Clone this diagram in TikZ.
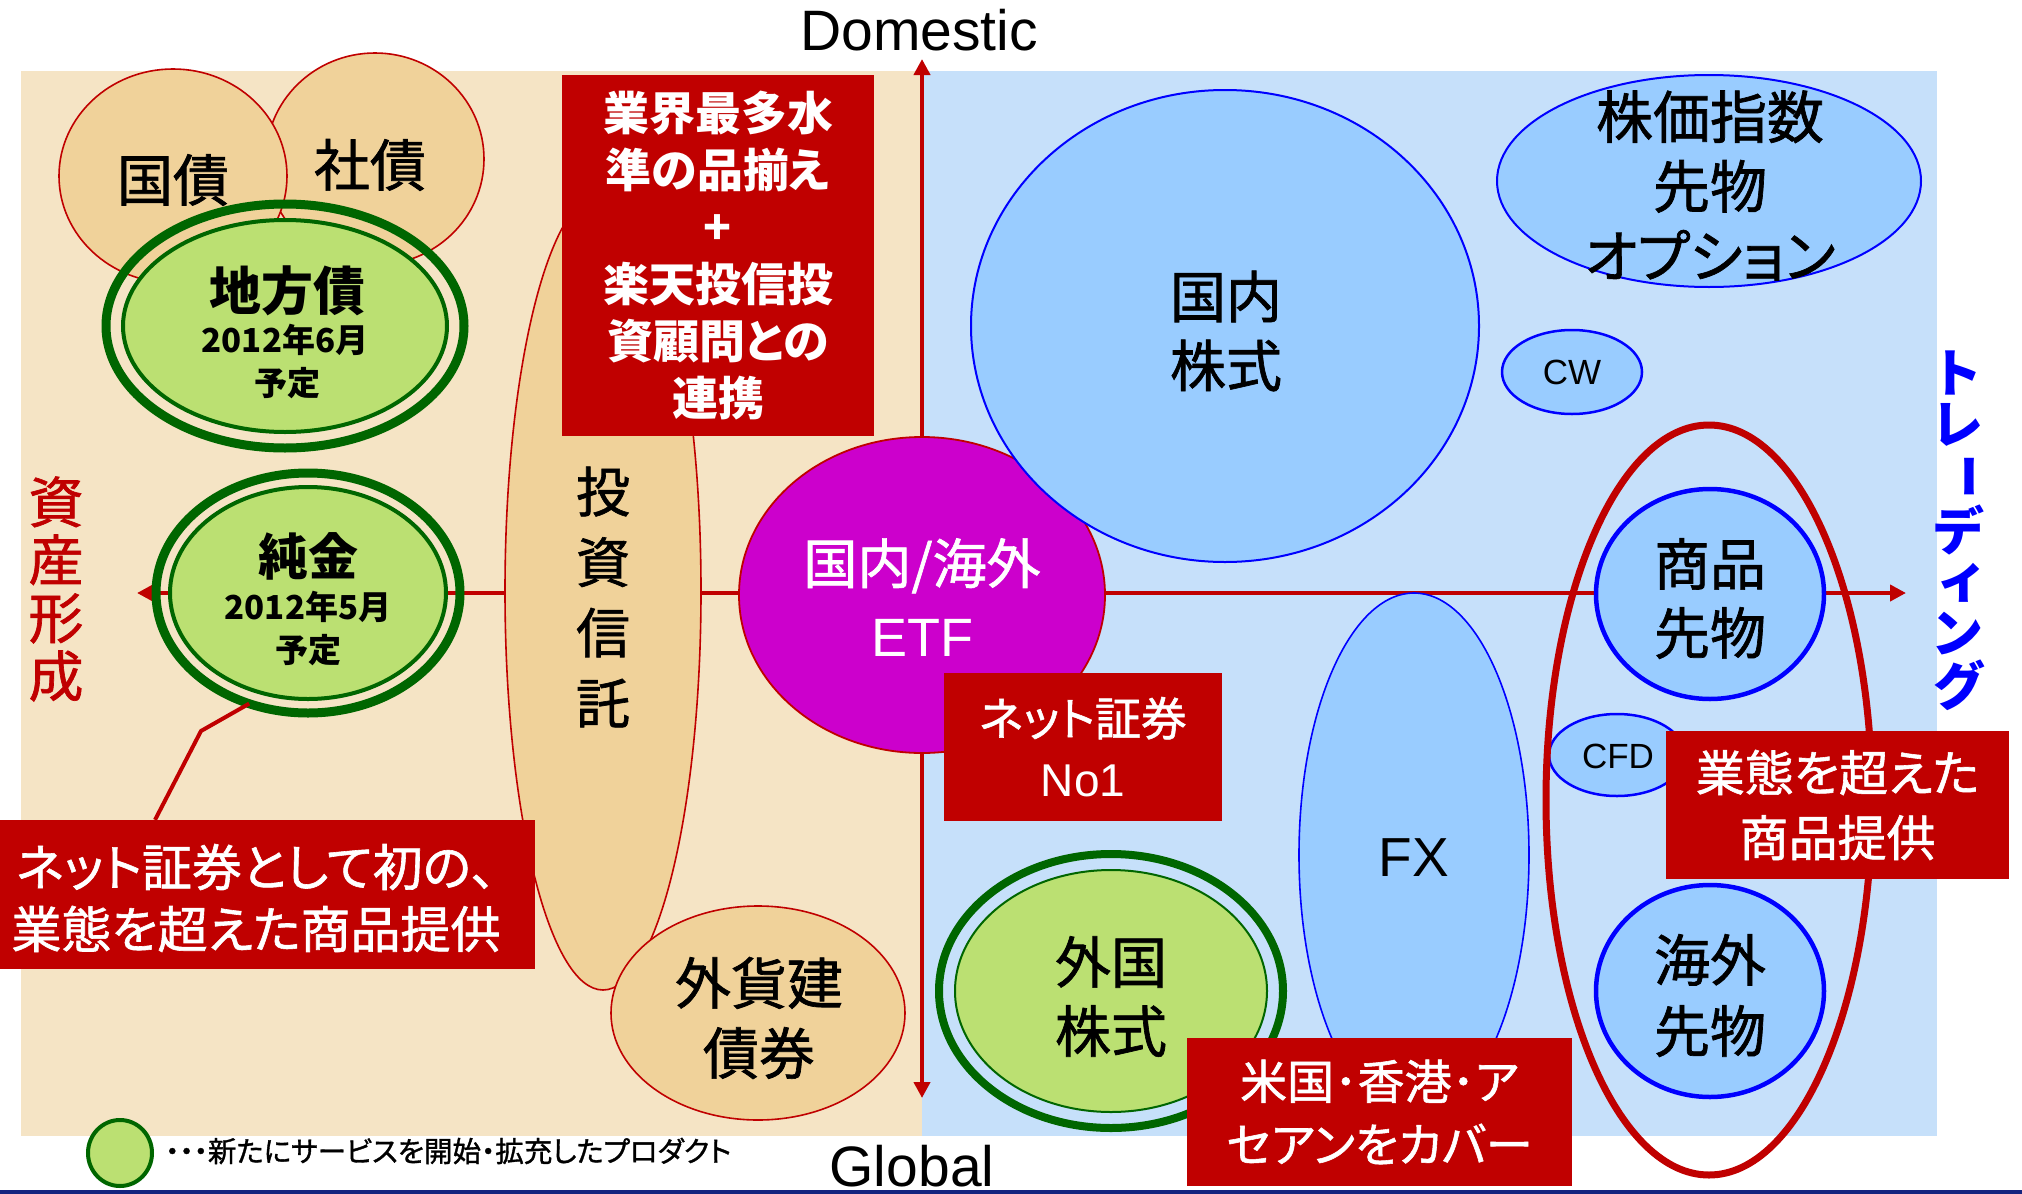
\documentclass[tikz,border=0pt]{standalone}
\usepackage{fontspec}
\usepackage{graphicx}
\setmainfont{Liberation Sans}
\newfontfamily\jp[RawFeature=+palt]{Noto Sans CJK JP}
\newfontfamily\jpm[RawFeature=+palt,FakeBold=1.2]{Noto Sans CJK JP}
\usetikzlibrary{shapes.geometric,arrows.meta,calc}
\definecolor{cRed}{HTML}{C00000}
\definecolor{cBeige}{HTML}{F5E4C5}
\definecolor{cTan}{HTML}{F0D29A}
\definecolor{cLblue}{HTML}{C6E0FA}
\definecolor{cEblue}{HTML}{99CCFF}
\definecolor{cBlue}{HTML}{0000FF}
\definecolor{cLgreen}{HTML}{BBE072}
\definecolor{cDgreen}{HTML}{006600}
\definecolor{cMag}{HTML}{CC00CC}
\definecolor{cNavy}{HTML}{14247F}
\begin{document}
\begin{tikzpicture}[x=1pt,y=-1pt,
  oval/.style={ellipse, inner sep=0pt, outer sep=0pt},
  bond/.style={oval, fill=cTan, draw=cRed, line width=1.6pt},
  bluefill/.style={oval, fill=cEblue, draw=cBlue, line width=#1},
  ring/.style={oval, draw=cDgreen, line width=#1},
  core/.style={oval, fill=cLgreen, draw=cDgreen, line width=#1},
  redbox/.style={rectangle, fill=cRed, inner sep=0pt, text=white, align=center},
  jt/.style 2 args={font=\jpm\fontsize{#1}{#2}\selectfont, align=center, inner sep=0pt},
  jb/.style 2 args={font=\jp\bfseries\fontsize{#1}{#2}\selectfont, align=center, inner sep=0pt},
  lt/.style={font=\fontsize{#1}{#1}\selectfont, inner sep=0pt},
  axis/.style={draw=cRed, line width=4pt, {Triangle[length=16pt,width=16pt]}-{Triangle[length=16pt,width=16pt]}},
  callline/.style={draw=cRed, line width=4pt}
]
\useasboundingbox (0,0) rectangle (2022,1194);
% backgrounds
\fill[cBeige] (21,71) rectangle (922,1136);
\fill[cLblue] (922,71) rectangle (1937,1136);
\fill[cNavy] (0,1190) rectangle (2022,1194);

% axes
\coordinate (ytop) at (922,59);
\coordinate (ybot) at (922,1098);
\coordinate (xleft) at (137,593);
\coordinate (xright) at (1906,593);
\draw[axis] (xleft) -- (xright);
\draw[axis] (ybot) -- (ytop);

% left side ovals
\node[bond, minimum width=218pt, minimum height=212pt] (shasai) at (375,159) {};
\node[bond, minimum width=228pt, minimum height=214pt] (kokusai) at (173,176) {};
\node[ring=9pt, minimum width=358pt, minimum height=244pt] (chihouR) at (285,326) {};
\node[core=4pt, minimum width=324pt, minimum height=212pt] (chihouC) at (285,326) {};
\node[ring=9pt, minimum width=304pt, minimum height=240pt] (junkinR) at (308,593) {};
\node[core=4pt, minimum width=276pt, minimum height=212pt] (junkinC) at (308,593) {};
\node[bond, minimum width=196pt, minimum height=798pt] (toushin) at (603,591) {};
\node[bond, minimum width=294pt, minimum height=214pt] (gaika) at (758,1013) {};

% centre / right ovals
\node[oval, fill=cMag, draw=cRed, line width=1.8pt, minimum width=366pt, minimum height=316pt] (etf) at (922,595) {};
\node[bluefill=2pt, minimum width=508pt, minimum height=472pt] (kokunai) at (1225,326) {};
\node[bluefill=2pt, minimum width=424pt, minimum height=212pt] (kabuka) at (1709,181) {};
\node[bluefill=2.5pt, minimum width=140pt, minimum height=84pt] (cw) at (1572,372) {};
\node[bluefill=4.5pt, minimum width=228pt, minimum height=210pt] (shohin) at (1710,594) {};
\node[bluefill=2.5pt, minimum width=136pt, minimum height=82pt] (cfd) at (1617,755) {};
\node[bluefill=4.5pt, minimum width=228pt, minimum height=212pt] (kaigai) at (1710,991) {};
\node[bluefill=1.6pt, minimum width=230pt, minimum height=524pt] (fx) at (1414,855) {};
\node[ring=8pt, minimum width=344pt, minimum height=274pt] (gaikokuR) at (1111,991) {};
\node[core=2pt, minimum width=312pt, minimum height=242pt] (gaikokuC) at (1111,991) {};
\node[oval, draw=cRed, line width=7pt, minimum width=326pt, minimum height=750pt] (trade) at (1709,800) {};

% red boxes
\node[redbox, minimum width=312pt, minimum height=361pt, font=\jp\bfseries\fontsize{46}{57}\selectfont] (hinzoroe) at (718,255.5)
  {業界最多水\\準の品揃え\\+\\楽天投信投\\資顧問との\\連携};
\node[redbox, minimum width=278pt, minimum height=148pt, font=\jpm\fontsize{46}{61}\selectfont] (no1) at (1083,747)
  {ネット証券\\{\rmfamily No1}};
\node[redbox, minimum width=343pt, minimum height=148pt, font=\jpm\fontsize{49}{65}\selectfont] (gyotai) at (1837.5,805)
  {業態を超えた\\商品提供};
\node[redbox, minimum width=385pt, minimum height=148pt, font=\jpm\fontsize{47}{63}\selectfont] (beikoku) at (1379.5,1112)
  {米国･香港･ア\\セアンをカバー};
\node[redbox, minimum width=535pt, minimum height=149pt] (callbox) at (267.5,894.5) {};
\node[jt={50}{62}, text=white] (calltext) at (256,898) {ネット証券として初の、\\業態を超えた商品提供};

% callout connector
\coordinate (callbend) at (201,731);
\draw[callline] (junkinR.-118) -- (callbend) -- ($(callbox.north west)!0.29!(callbox.north east)$);

% texts in ovals
\node[jt={56}{56}] (kokusaiT) at (173,180) {国債};
\node[jt={56}{56}] (shasaiT) at (370,165) {社債};
\node[jb={52}{52}] (chihouT1) at (287,291) {地方債};
\node[jb={33}{33}] (chihouT2) at (285,340) {2012年6月};
\node[jb={33}{33}] (chihouT3) at (287,383) {予定};
\node[jb={50}{50}] (junkinT1) at (308,556) {純金};
\node[jb={33}{33}] (junkinT2) at (308,607) {2012年5月};
\node[jb={33}{33}] (junkinT3) at (308,650) {予定};
\node[jt={54}{70.5}] (toushinT) at (603,597) {投\\資\\信\\託};
\node[jt={56}{70}] (gaikaT) at (759,1018) {外貨建\\債券};
\node[jt={54}{73}, text=white] (etfT) at (922,597.5) {国内/海外\\{\rmfamily ETF}};
\node[jt={56}{69}] (kokunaiT) at (1226,331) {国内\\株式};
\node[jt={57}{69.5}] (kabukaT) at (1710,185.5) {株価指数\\先物\\オプション};
\node[lt=35] (cwT) at (1572,372) {CW};
\node[jt={56}{69}] (shohinT) at (1710,598.5) {商品\\先物};
\node[lt=35] (cfdT) at (1618,756) {CFD};
\node[jt={56}{71}] (kaigaiT) at (1710,995.5) {海外\\先物};
\node[lt=55] (fxT) at (1414,858) {FX};
\node[jt={56}{69}] (gaikokuT) at (1111,996.5) {外国\\株式};

% axis labels
\node[lt=57, anchor=base] (domestic) at (919,50) {Domestic};
\node[lt=57, anchor=base] (global) at (912,1186) {Global};
\node[jt={55}{58}, text=cRed] (shisan) at (56,589) {資\\産\\形\\成};
\foreach \c/\xx/\yy/\r [count=\i] in {ト/1958/373/0, レ/1958/425/0, {\scalebox{0.85}[1]{ー}}/1962/477/-90, デ/1958/530/0, ィ/1960/583/0, ン/1958/634/0, グ/1958/685/0}
  \node[jb={52}{52}, text=cBlue, rotate=\r] (trading\i) at (\xx,\yy) {\c};

% legend
\node[core=4pt, minimum width=64pt, minimum height=66pt] (legendC) at (120,1153) {};
\node[jt={28.5}{28.5}, anchor=west] (legendT) at (165,1151) {・・・新たにサービスを開始・拡充したプロダクト};
\end{tikzpicture}
\end{document}
